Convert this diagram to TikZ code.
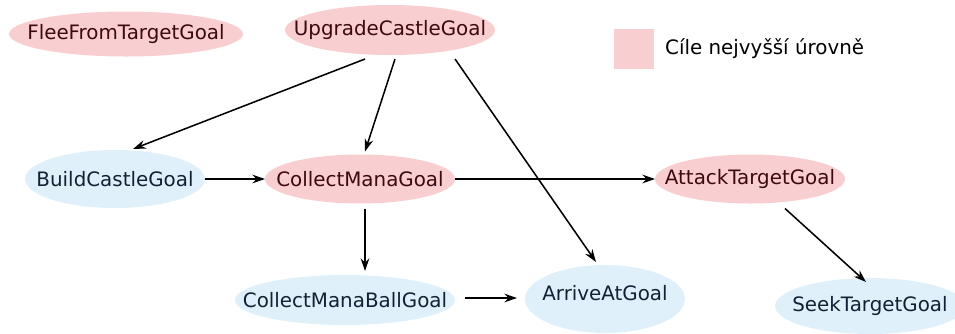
\documentclass[tikz,border=0pt]{standalone}
\usepackage{fontspec}
\setmainfont{DejaVu Sans}
\usetikzlibrary{positioning, shapes.geometric, arrows.meta}

\definecolor{toppink}{RGB}{249,206,208}
\definecolor{subblue}{RGB}{223,240,250}
\definecolor{toptext}{RGB}{60,8,18}
\definecolor{subtext}{RGB}{18,34,52}
\newcommand\goalfont{\fontsize{14.9pt}{17pt}\selectfont}

\begin{document}
\begin{tikzpicture}[
        x=0.75pt, y=-0.75pt,
        goal/.style = {ellipse, inner sep=0pt, outer sep=0pt},
        topgoal/.style = {goal, fill=toppink, label={[text=toptext, font=\goalfont]center:#1}},
        subgoal/.style = {goal, fill=subblue, label={[text=subtext, font=\goalfont]center:#1}},
        arr/.style = {-{Stealth[length=9.5pt, width=6.5pt]}, line width=1.15pt}
    ]
        \useasboundingbox (0,0) rectangle (955,333);

        % Top level goals
        \node[topgoal=FleeFromTargetGoal, minimum width=175.5pt, minimum height=33.75pt] (flee) at (126,34) {};
        \node[topgoal=UpgradeCastleGoal, minimum width=157.5pt, minimum height=37.5pt] (upgrade) at (390,30) {};
        \node[topgoal=CollectManaGoal, minimum width=142.5pt, minimum height=36.75pt] (collectmana) at (360,179) {};
        \node[topgoal=AttackTargetGoal, minimum width=142.5pt, minimum height=36.75pt] (attack) at (750,179) {};

        % Sub goals
        \node[subgoal=BuildCastleGoal, minimum width=135pt, minimum height=43.5pt] (buildcastle) at (115,179) {};
        \node[subgoal=CollectManaBallGoal, minimum width=165pt, minimum height=37.5pt] (manaball) at (345,300) {};
        \node[goal, fill=subblue, minimum width=120pt, minimum height=51pt,
              label={[text=subtext, font=\goalfont, yshift=4.5pt]center:ArriveAtGoal}] (arrive) at (605,299) {};
        \node[subgoal=SeekTargetGoal, minimum width=142.5pt, minimum height=42pt] (seek) at (870,306) {};

        % Legend
        \node[fill=toppink, minimum size=30pt, inner sep=0pt] (legbox) at (634,49) {};
        \node[right=8pt of legbox, inner sep=0pt, font=\goalfont] (legtext) {Cíle nejvyšší úrovně};

        % Arrows
        \draw[arr] ([shift={(-25,4)}]upgrade.south) -- ([shift={(18,-1)}]buildcastle.north);
        \draw[arr] ([shift={(5,4)}]upgrade.south) -- ([shift={(5,-3)}]collectmana.north);
        \draw[arr] ([shift={(65,4)}]upgrade.south) -- ([shift={(-9,-3)}]arrive.north);
        \draw[arr] (buildcastle.east) -- (collectmana.west);
        \draw[arr] (collectmana.east) -- (attack.west);
        \draw[arr] ([shift={(5,5)}]collectmana.south) -- ([shift={(20,-4)}]manaball.north);
        \draw[arr] ([shift={(10,-2)}]manaball.east) -- ([shift={(-8,-1)}]arrive.west);
        \draw[arr] ([shift={(35,5)}]attack.south) -- ([shift={(-4,4)}]seek.north);
    \end{tikzpicture}
\end{document}
